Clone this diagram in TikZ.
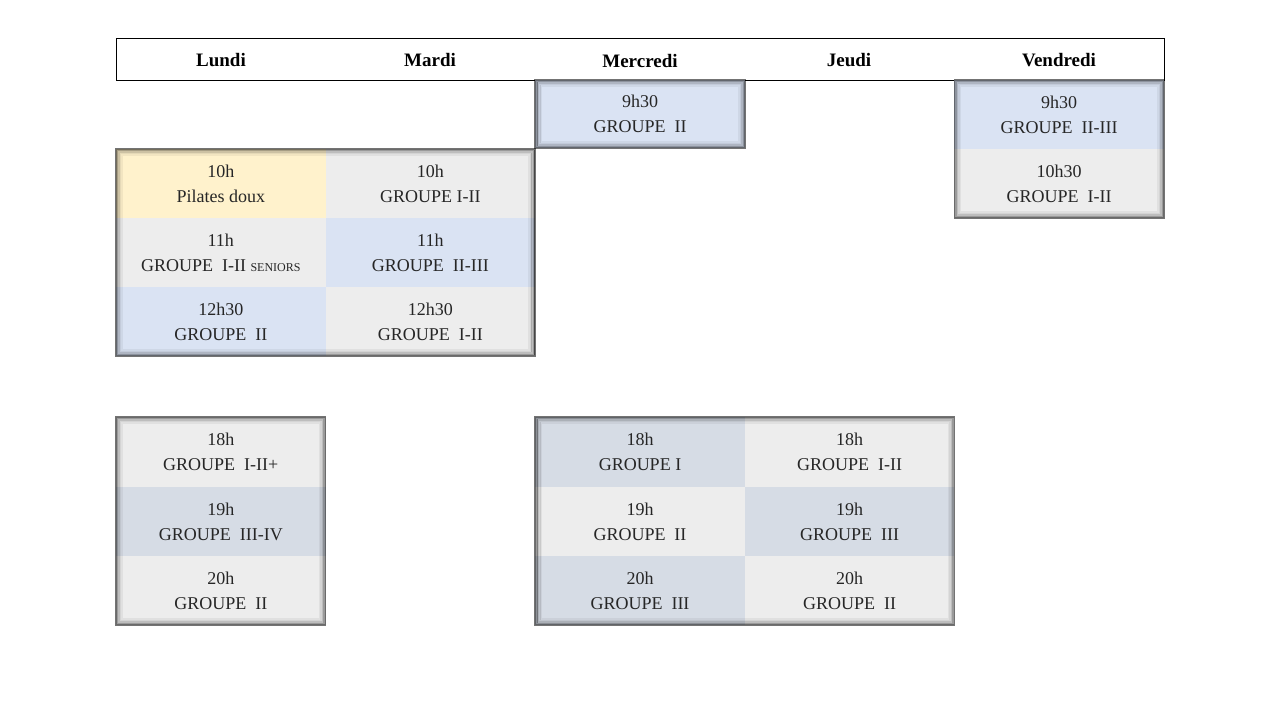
\documentclass[tikz,border=0pt]{standalone}
\usepackage{fontspec}
\setmainfont{Liberation Serif}
\definecolor{cblue}{HTML}{DAE3F3}
\definecolor{cgray}{HTML}{EDEDED}
\definecolor{cyel}{HTML}{FFF2CC}
\definecolor{cslate}{HTML}{D6DCE5}
\tikzset{
  celltext/.style={align=center, font=\fontsize{18}{25}\selectfont, text=black!85},
  head/.style={font=\bfseries\fontsize{19}{22}\selectfont}
}
\newcommand{\mycell}[6]{% name, col, top, bottom, color, text
  \fill[#5] ({116+209.6*#2},#3) rectangle ({116+209.6*(#2+1)},#4);
  \node[celltext] (#1) at ({116+209.6*(#2+0.5)},{(#3+#4)/2}) {#6};}
\newcommand{\myglow}[4]{% x0 y0 x1 y1
  \foreach \i/\o in {0/0.55,1.5/0.35,3/0.2,4.5/0.1,6/0.05}{
    \draw[black, opacity=\o, line width=1.6pt] ({#1+\i},{#2+\i}) rectangle ({#3-\i},{#4-\i});}}
\begin{document}
\begin{tikzpicture}[x=1pt,y=-1pt]
\useasboundingbox (0,0) rectangle (1280,720);
\fill[white] (0,0) rectangle (1280,720);
% header
\draw[line width=0.8pt] (116,38) rectangle (1164,80);
\node[head] (h0) at (221,60) {Lundi};
\node[head] (h1) at (430,60) {Mardi};
\node[head] (h2) at (640,61) {Mercredi};
\node[head] (h3) at (849,60) {Jeudi};
\node[head] (h4) at (1059,60) {Vendredi};
% morning
\mycell{me}{2}{80}{148}{cblue}{9h30\\GROUPE~ II}
\mycell{va}{4}{80}{149}{cblue}{9h30\\GROUPE~ II-III}
\mycell{vb}{4}{149}{218}{cgray}{10h30\\GROUPE~ I-II}
\mycell{la}{0}{149}{218}{cyel}{10h\\Pilates doux}
\mycell{lb}{0}{218}{287}{cgray}{11h\\GROUPE~ I-II {\fontsize{12}{12}\selectfont SENIORS}}
\mycell{lc}{0}{287}{356}{cblue}{12h30\\GROUPE~ II}
\mycell{ma}{1}{149}{218}{cgray}{10h\\GROUPE I-II}
\mycell{mb}{1}{218}{287}{cblue}{11h\\GROUPE~ II-III}
\mycell{mc}{1}{287}{356}{cgray}{12h30\\GROUPE~ I-II}
% evening
\mycell{ea}{0}{417}{487}{cgray}{18h\\GROUPE~ I-II+}
\mycell{eb}{0}{487}{556}{cslate}{19h\\GROUPE~ III-IV}
\mycell{ec}{0}{556}{625}{cgray}{20h\\GROUPE~ II}
\mycell{fa}{2}{417}{487}{cslate}{18h\\GROUPE I}
\mycell{fb}{2}{487}{556}{cgray}{19h\\GROUPE~ II}
\mycell{fc}{2}{556}{625}{cslate}{20h\\GROUPE~ III}
\mycell{ga}{3}{417}{487}{cgray}{18h\\GROUPE~ I-II}
\mycell{gb}{3}{487}{556}{cslate}{19h\\GROUPE~ III}
\mycell{gc}{3}{556}{625}{cgray}{20h\\GROUPE~ II}
% glows
\myglow{535.2}{80}{744.8}{148}
\myglow{954.4}{80}{1164}{218}
\myglow{116}{149}{535.2}{356}
\myglow{116}{417}{325.6}{625}
\myglow{535.2}{417}{954.4}{625}
\end{tikzpicture}
\end{document}
